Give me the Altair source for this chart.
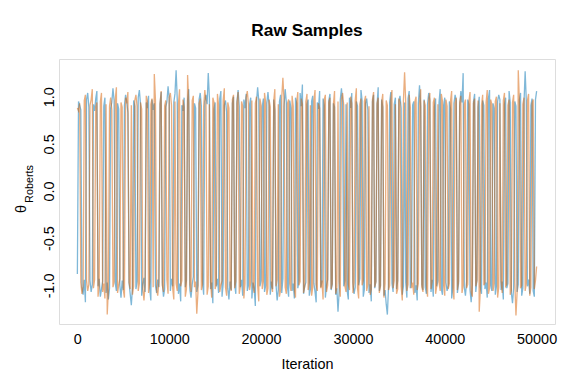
import altair as alt
import pandas as pd

# thinned trace, one value every 125 iterations
iterations = list(range(0, 50001, 125))

chain_blue = [
    -0.88, 0.95, 0.91, 0.86, -1.02, -1.10, -0.94, -1.18, 0.97, 1.04,
    0.89, -0.95, -1.07, -0.99, 0.92, 0.85, 0.98, 1.06, -1.01, -0.93,
    -1.12, -1.04, -0.96, 0.90, 0.99, -1.08, -0.97, -1.15, -1.03, 0.88,
    0.94, 1.09, 0.96, -0.98, -1.06, 0.93, 0.87, -1.00, -1.13, -0.95,
    -1.05, 0.91, 1.02, 0.95, 0.83, -0.97, -1.09, -1.21, -1.02, 0.96,
    0.90, -1.04, -0.96, 0.99, 1.07, 0.92, -1.11, -0.99, -0.92, -1.07,
    0.94, 0.88, 1.01, -1.03, -1.16, 0.97, 0.86, 0.93, -1.00, -1.08,
    -0.94, -1.02, 0.92, 1.05, -0.97, -1.12, -1.04, 0.89, 0.95, 1.11,
    0.98, -1.06, -0.93, -1.01, 0.94, 1.03, 1.28, 0.97, -1.09, -0.98,
    -1.17, 0.91, 0.85, 0.99, -1.02, -0.95, 0.96, 1.08, -1.05, -1.13,
    -0.99, -0.91, 0.93, 0.88, -1.07, -1.00, 0.97, 1.04, 0.90, -0.96,
    -1.10, 0.95, 1.02, 0.92, 1.25, 0.99, -1.04, -0.97, -1.19, 0.87,
    0.94, -1.01, -0.93, -1.08, 0.98, 1.06, -1.12, -0.98, 0.91, 0.96,
    0.84, -1.03, -1.15, -0.96, -1.05, 0.93, 1.00, -0.99, -1.09, 0.95,
    1.07, 0.90, -1.02, -0.94, -1.11, 0.97, 0.88, 1.03, -1.06, -1.00,
    0.92, 0.99, -1.14, -0.97, -1.03, -1.22, 0.94, 1.10, 0.96, -1.01,
    -0.95, 0.89, 0.98, -1.07, -1.00, 0.93, 1.05, 0.91, -1.10, -0.96,
    -1.04, 0.97, 0.86, -0.99, -1.16, -1.05, 0.95, 1.02, -1.08, -0.93,
    0.90, 1.08, 0.94, -1.02, -1.12, 0.96, 0.88, -1.06, -0.98, -1.14,
    0.99, 0.93, -1.03, -0.95, 1.04, 0.90, 1.13, -1.09, -1.01, -0.97,
    0.92, 0.97, -1.11, -1.04, 0.95, 1.01, -0.98, -1.07, -1.18, 0.94,
    0.87, 1.06, -1.02, -0.96, 0.98, 0.91, -1.13, -1.00, -0.94, 0.96,
    1.03, -1.05, -0.99, 0.93, 0.89, -1.10, -1.03, -1.28, -1.07, 0.97,
    1.09, 0.94, -1.01, -0.95, 0.92, -1.06, -1.15, 0.99, 0.88, 1.04,
    -0.97, -1.09, -1.02, 0.95, 0.90, -1.00, -0.93, 1.07, 0.96, -1.12,
    -1.04, 0.93, 0.98, 0.86, -1.08, -0.99, -1.17, 0.95, 1.02, -1.03,
    -0.96, 0.91, 1.10, -1.06, -1.00, 0.97, 0.89, -1.11, -1.05, -1.20,
    -1.31, -1.02, 0.94, 1.05, -0.98, -1.07, 0.92, 0.99, -1.04, -0.95,
    0.96, 1.01, 0.88, -1.10, -1.01, 0.94, -0.97, -1.13, 0.98, 1.06,
    -1.03, -0.96, 0.91, 0.95, -1.08, -1.00, -1.16, 0.93, 1.12, 0.90,
    -0.99, -1.05, 0.97, -1.02, -1.09, 0.92, 1.04, 0.96, -1.07, -0.94,
    -1.12, 0.89, 0.98, -1.01, -0.95, 0.94, 1.08, -1.04, -1.10, 0.91,
    0.99, -0.97, -1.06, -1.00, 0.95, 0.87, -1.14, -1.03, 0.93, 1.02,
    0.96, -1.08, -0.98, 0.90, 1.06, 0.94, 1.25, -1.02, -1.11, -0.96,
    0.97, 0.92, -1.05, -1.18, -0.99, 0.95, 1.03, -1.07, -0.94, 0.89,
    1.00, -1.02, -1.09, 0.96, 0.91, -1.04, -0.97, -1.13, 0.98, 1.07,
    -1.00, -1.06, 0.93, 0.88, -1.10, -1.01, 0.95, 1.02, 0.97, -1.05,
    -0.96, -1.15, 0.92, 0.99, -1.03, -0.98, 1.06, 0.94, -1.08, -1.19,
    -1.02, 0.95, 0.90, -1.07, -0.99, 0.97, 1.04, -1.11, -1.03, 0.93,
    1.27, 0.96, -1.01, -0.94, -1.09, 0.91, 0.98, -1.06, -1.12, 0.97,
    1.06,
]

chain_orange = [
    0.88, 0.85, 0.93, -0.97, -1.09, -1.01, 0.96, 1.02, -0.95, -1.06,
    -0.99, 0.91, 0.97, 1.08, -1.03, -0.94, 0.89, 0.94, -1.12, -1.00,
    0.95, 1.04, -1.07, -0.98, -1.14, 0.92, -1.31, -1.05, 0.90, 0.99,
    0.86, -1.02, -0.96, 0.97, 1.10, -1.08, -1.00, -0.93, 0.94, 0.89,
    -1.05, -1.13, 0.99, 0.93, 1.05, -0.97, -1.04, 0.91, -1.10, -1.01,
    0.96, 1.02, 0.90, -1.06, -0.98, 0.94, 0.87, -1.03, -1.16, -0.99,
    1.01, 0.95, -1.08, -0.96, 0.92, 0.98, -1.02, 1.24, 0.97, -1.05,
    -1.11, -0.97, 0.93, 1.06, -1.00, -1.07, 0.90, 0.96, -0.94, -1.09,
    0.99, 1.04, 0.91, -1.03, -1.15, 0.95, -0.98, -1.06, 0.92, 1.08,
    -1.01, -0.95, 0.97, 0.89, -1.12, -1.04, 1.23, 0.94, -0.99, -1.07,
    0.96, 1.01, -1.02, -0.96, -1.30, -1.08, 0.93, 0.98, -1.05, -0.99,
    0.90, 1.07, 0.95, -1.10, -1.01, 0.92, -0.97, -1.13, 0.99, 0.94,
    -1.04, -0.98, 1.03, 0.91, -1.07, -1.00, -0.95, 0.96, 1.09, -1.02,
    -1.11, 0.94, 0.88, -0.99, -1.06, 0.97, 1.02, -1.03, -0.96, 0.93,
    1.05, -1.09, -1.01, 0.95, 0.90, -1.14, -0.98, 0.99, 1.06, 0.92,
    -1.05, -0.97, 0.96, -1.02, -1.08, 0.93, 1.00, -1.00, -1.17, 0.98,
    0.91, -1.04, -0.96, 1.04, 0.94, -1.10, -1.03, 0.97, 0.89, -0.99,
    -1.07, 0.95, 1.08, -1.01, -0.94, 0.92, -1.12, -1.05, 0.99, 1.20,
    0.96, -1.02, -1.09, 0.93, 0.97, -0.98, -1.06, 1.01, 0.90, -1.04,
    -1.13, 0.94, 1.05, -1.00, -0.96, 0.98, 0.92, -1.08, -1.01, 0.95,
    1.03, -1.05, -0.97, 0.91, -1.11, -1.02, 0.96, 1.07, -0.99, -1.06,
    0.93, 0.88, -1.03, -0.95, -1.15, 0.97, 1.02, -1.07, -1.00, 0.94,
    0.99, -1.04, -0.98, 0.92, 1.06, -1.09, -1.02, 0.95, -0.96, -1.12,
    0.97, 1.04, 0.91, -1.01, -1.07, 0.94, -0.99, -1.05, 1.00, 0.93,
    -1.08, -0.97, 0.96, 1.09, -1.03, -1.14, 0.92, 0.98, -1.00, -0.95,
    0.95, 1.01, -1.06, -0.99, 0.90, -1.10, -1.04, 0.97, 1.05, -1.02,
    -0.96, 0.93, 0.99, -1.08, -1.01, 0.94, 1.03, -1.13, -0.98, 0.96,
    0.91, -1.05, -1.00, 0.97, 1.07, -1.03, -0.95, 0.92, -1.09, -1.04,
    0.98, 0.94, -1.01, -1.16, 0.96, 1.26, 0.93, -1.06, -0.99, 1.02,
    0.89, -1.03, -0.97, -1.10, 0.95, 1.00, -1.05, -0.98, 0.93, 1.08,
    -1.02, -1.07, 0.96, 0.91, -1.00, -1.12, 0.97, 1.04, -1.04, -0.96,
    0.94, 0.99, -1.09, -1.01, 0.92, -0.97, -1.06, 1.03, 0.95, -1.00,
    -1.11, 0.97, 0.90, -1.04, -0.98, 0.96, 1.06, -1.02, -1.15, 0.93,
    0.99, -1.05, -0.96, 0.94, 1.01, -1.08, -1.00, 0.92, 0.97, -1.03,
    -0.99, 0.95, 1.05, -1.07, -1.12, 0.93, 0.98, -1.01, -0.95, 0.96,
    -1.28, -1.04, 0.91, 1.02, -1.00, -0.97, 0.94, 1.07, -1.09, -1.03,
    0.97, 0.92, -1.06, -0.98, 0.95, 1.00, -1.13, -1.02, 0.93, -0.96,
    -1.08, 0.96, 1.04, -1.01, -0.99, 0.91, 0.97, -1.10, -1.05, 0.94,
    1.02, -0.97, -1.32, -1.07, 1.28, 0.95, -1.03, -1.00, 0.92, 0.99,
    -1.06, -0.98, 0.96, 1.03, -1.11, -1.02, 0.93, 0.97, -1.04, -0.95,
    -0.80,
]

x_ticks = [0, 10000, 20000, 30000, 40000, 50000]
y_ticks = [-1.0, -0.5, 0.0, 0.5, 1.0]

assert len(chain_blue) == len(iterations) == len(chain_orange)

df_blue = pd.DataFrame({"Iteration": iterations, "theta": chain_blue})
df_orange = pd.DataFrame({"Iteration": iterations, "theta": chain_orange})

FONT = "Liberation Sans"

x_enc = alt.X(
    "Iteration:Q",
    scale=alt.Scale(domain=[-2000, 52000], nice=False, zero=False),
    axis=alt.Axis(
        values=x_ticks, format="d", ticks=False, domain=False, grid=False,
        labelFontSize=14.4, labelFont=FONT, labelColor="black",
        labelPadding=8, labelFlush=False, labelOverlap=False,
        title="Iteration", titleFontSize=14.4, titleFont=FONT,
        titleFontWeight="normal", titleColor="black", titlePadding=12,
    ),
)
y_enc = alt.Y(
    "theta:Q",
    scale=alt.Scale(domain=[-1.41, 1.40], nice=False, zero=False),
    axis=alt.Axis(
        values=y_ticks, ticks=False, domain=False, grid=False,
        labelExpr="datum.value < 0 ? '-' + format(abs(datum.value), '.1f') : format(datum.value, '.1f')",
        labelAngle=270, labelAlign="center", labelBaseline="bottom",
        labelFontSize=14.4, labelFont=FONT, labelColor="black",
        labelPadding=3, labelFlush=False, labelOverlap=False,
        title="",
    ),
)

blue = alt.Chart(df_blue).mark_line(
    color="#0072B2", strokeWidth=1.3, opacity=0.5, clip=True
).encode(x=x_enc, y=y_enc)

orange = alt.Chart(df_orange).mark_line(
    color="#D55E00", strokeWidth=1.3, opacity=0.5, clip=True
).encode(x="Iteration:Q", y="theta:Q")

theta_lbl = alt.Chart(pd.DataFrame({"t": ["θ"]})).mark_text(
    angle=270, align="center", baseline="middle", font=FONT,
    fontSize=14.4, color="black"
).encode(x=alt.value(-37), y=alt.value(150), text="t:N")

sub_lbl = alt.Chart(pd.DataFrame({"t": ["Roberts"]})).mark_text(
    angle=270, align="center", baseline="middle", font=FONT,
    fontSize=10.8, color="black"
).encode(x=alt.value(-29.5), y=alt.value(125), text="t:N")

chart = alt.layer(blue, orange, theta_lbl, sub_lbl).properties(
    width=496,
    height=265,
    autosize=alt.AutoSizeParams(type="none"),
    padding={"left": 51, "top": 51, "right": 13, "bottom": 52},
    title=alt.TitleParams(
        "Raw Samples", font=FONT, fontSize=17.3, fontWeight="bold",
        color="black", anchor="middle", offset=20,
    ),
).configure_view(stroke="black", strokeWidth=1).configure(background="white")

chart.save("out.html", embed_options={"renderer": "svg", "actions": False})
